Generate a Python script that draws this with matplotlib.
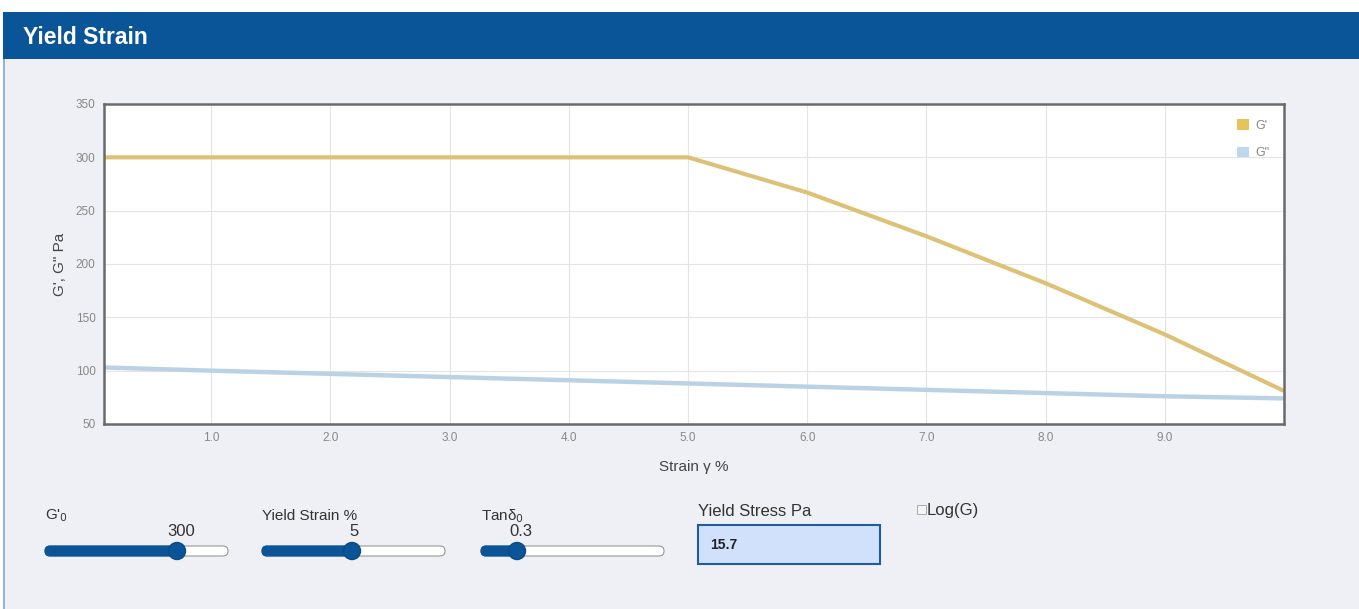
import numpy as np
import matplotlib
matplotlib.use('Agg')
import matplotlib.pyplot as plt
from matplotlib.patches import Rectangle, FancyBboxPatch, Circle, Patch

# data
strain = [0.1, 1.0, 2.0, 3.0, 4.0, 5.0, 6.0, 7.0, 8.0, 9.0, 10.0]
g_storage = [300, 300, 300, 300, 300, 300, 267, 226, 182, 134, 81]
g_loss = [103, 100, 97, 94, 91, 88, 85, 82, 79, 76, 74]
xticks = [1.0, 2.0, 3.0, 4.0, 5.0, 6.0, 7.0, 8.0, 9.0]
yticks = [50, 100, 150, 200, 250, 300, 350]

# slider widgets below the chart
slider_labels = ["G'$_0$", "Yield Strain %", "Tan\u03b4$_0$"]
slider_values = ["300", "5", "0.3"]
yield_stress = "15.7"

plt.rcParams['font.family'] = ['Liberation Sans', 'DejaVu Sans']

W, H = 1359, 609
fig = plt.figure(figsize=(W / 100, H / 100), dpi=100)
fig.patch.set_facecolor('white')

# background axes in pixel coordinates
bg = fig.add_axes([0, 0, 1, 1], zorder=0)
bg.set_xlim(0, W)
bg.set_ylim(H, 0)
bg.axis('off')
bg.add_patch(Rectangle((3, 12), W, H, facecolor='#eef0f5', edgecolor='none'))
bg.add_patch(Rectangle((3, 12), 2, H, facecolor='#8fb4db', edgecolor='none'))
bg.add_patch(Rectangle((3, 12), W, 47, facecolor='#0a5597', edgecolor='none'))
bg.text(23, 37, 'Yield Strain', color='white', fontsize=16.5, fontweight='bold', va='center', ha='left')

# sliders
track_x = [45, 262, 481]
knob_x = [177, 352, 517]
value_x = [181, 354, 521]
for lab, val, tx, kx, vx in zip(slider_labels, slider_values, track_x, knob_x, value_x):
    bg.text(tx, 516, lab, fontsize=11, color='#333333', va='center', ha='left')
    bg.text(vx, 532, val, fontsize=12, color='#333333', va='center', ha='center')
    bg.add_patch(FancyBboxPatch((tx, 546), 183, 10, boxstyle='round,pad=0,rounding_size=5',
                                facecolor='white', edgecolor='#999999', linewidth=0.8))
    bg.add_patch(FancyBboxPatch((tx, 546), kx - tx, 10, boxstyle='round,pad=0,rounding_size=5',
                                facecolor='#0a5597', edgecolor='#0a5597', linewidth=0.8))
    bg.add_patch(Circle((kx, 551), 8.5, facecolor='#0a5597', edgecolor='#0a4a85'))

bg.text(698, 512, 'Yield Stress Pa', fontsize=12, color='#333333', va='center', ha='left')
bg.add_patch(Rectangle((698, 525), 182, 39, facecolor='#d1e1fb', edgecolor='#1f5f99', linewidth=1.5))
bg.text(710, 545, yield_stress, fontsize=10, fontweight='bold', color='#222222', va='center', ha='left')
bg.add_patch(Rectangle((917, 505), 9, 9, facecolor='#f4f4f4', edgecolor='#aaaaaa', linewidth=0.7))
bg.text(927, 511, 'Log(G)', fontsize=12, color='#333333', va='center', ha='left')

# chart
L, R, T, B = 104, 1284, 104, 424
ax = fig.add_axes([L / W, (H - B) / H, (R - L) / W, (B - T) / H], zorder=1)
ax.set_facecolor('white')
ax.plot(strain, g_storage, color='#dcc177', linewidth=3, solid_capstyle='butt')
ax.plot(strain, g_loss, color='#bbd2e5', linewidth=3.2, solid_capstyle='butt')
ax.set_xlim(0.1, 10.0)
ax.set_ylim(50, 350)
ax.set_xticks(xticks)
ax.set_xticklabels(['%.1f' % t for t in xticks])
ax.set_yticks(yticks)
ax.grid(True, color='#e4e4e4', linewidth=0.8)
ax.set_axisbelow(True)
ax.tick_params(labelsize=8.5, colors='#888888', length=0, pad=6)
for s in ax.spines.values():
    s.set_color('#6a6a6a')
    s.set_linewidth(1.8)
ax.set_xlabel('Strain \u03b3 %', fontsize=11, color='#444444', labelpad=11)
ax.set_ylabel('G\', G" Pa', fontsize=11, color='#444444', labelpad=6)

ax.legend(handles=[Patch(facecolor='#e8c35a', label="G'"), Patch(facecolor='#bfd7ec', label='G"')],
          loc='upper right', frameon=False, fontsize=9, handlelength=0.95, handleheight=0.95,
          labelcolor='#888888', borderaxespad=0.8, labelspacing=1.2, handletextpad=0.5)

fig.savefig('out.png', dpi=100, facecolor=fig.get_facecolor())
